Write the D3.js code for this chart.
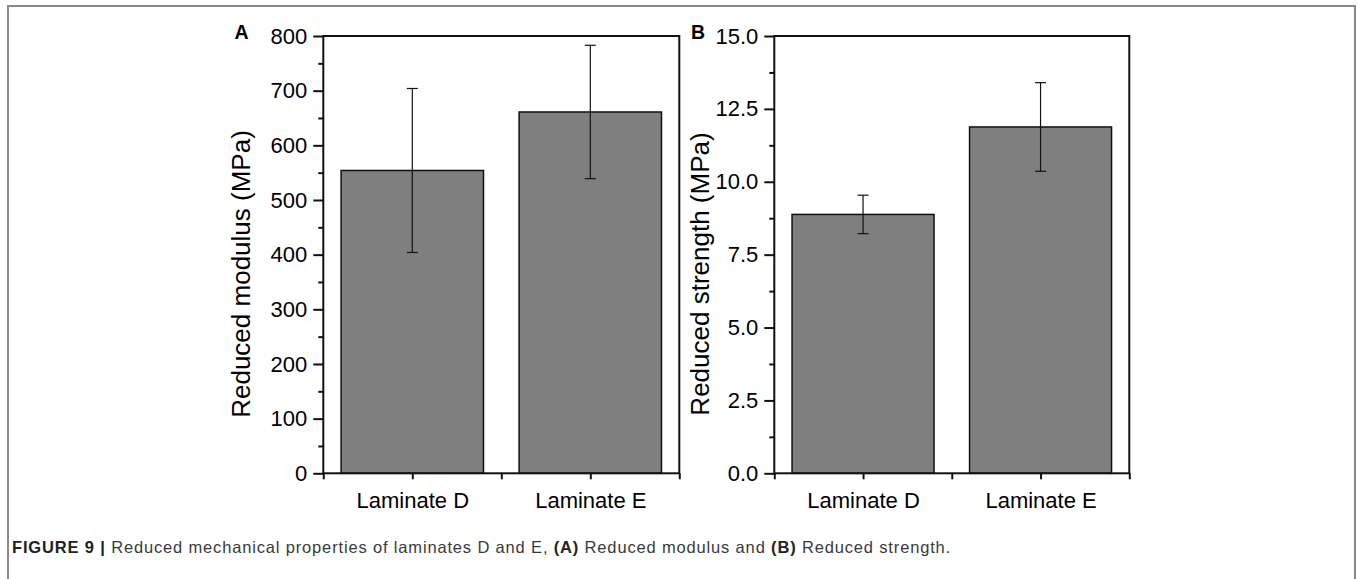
<!DOCTYPE html>
<html>
<head>
<meta charset="utf-8">
<script src="https://cdn.jsdelivr.net/npm/d3@7"></script>
<style>
    body { margin: 0; background: #fff; }
    .font { font-family: "Liberation Sans", Arial, sans-serif; }
    .tick text { font-size: 22px; fill: #000; }
    .axis-title { font-size: 26px; fill: #000; }
    .panel-letter { font-size: 19.5px; font-weight: bold; fill: #000; }
    .caption { font-size: 16.5px; fill: #3a3a3a; }
</style>
</head>
<body>
<svg id="chart" width="1357" height="579"></svg>
<script>
const SVG_WIDTH = 1357;
const SVG_HEIGHT = 579;

// data
const CATEGORIES = ["Laminate D", "Laminate E"];
const MODULUS_MEAN = [554, 661];
const MODULUS_ERR = [150, 122];
const STRENGTH_MEAN = [8.88, 11.88];
const STRENGTH_ERR = [0.66, 1.52];
const MODULUS_TICKS = [0, 100, 200, 300, 400, 500, 600, 700, 800];
const STRENGTH_TICKS = [0, 2.5, 5.0, 7.5, 10.0, 12.5, 15.0];
const CAPTION_BOLD = "FIGURE 9 | ";
const CAPTION_TEXT = "Reduced mechanical properties of laminates D and E, ";

var svg = d3.select("#chart");

// outer figure frame
svg.append("rect")
    .attr("x", 8)
    .attr("y", 6)
    .attr("width", SVG_WIDTH - 10)
    .attr("height", SVG_HEIGHT + 20)
    .attr("fill", "none")
    .attr("stroke", "#8a8a8a")
    .attr("stroke-width", 2);

const PLOT_TOP = 36;
const PLOT_BOTTOM = 473.3;

function drawPanel(opts) {
    var g = svg.append("g");
    var xScale = d3.scaleBand()
        .domain(CATEGORIES)
        .range([opts.left, opts.right])
        .paddingInner(0.2)
        .paddingOuter(0.1);
    var yScale = d3.scaleLinear()
        .domain([opts.ticks[0], opts.ticks[opts.ticks.length - 1]])
        .range([PLOT_BOTTOM, PLOT_TOP]);

    var rows = CATEGORIES.map(function(c, i) {
        return {key: c, mean: opts.mean[i], err: opts.err[i]};
    });

    // bars
    g.selectAll("rect.bar")
        .data(rows)
        .enter()
        .append("rect")
        .classed("bar", true)
        .attr("x", function(d) { return xScale(d.key); })
        .attr("y", function(d) { return yScale(d.mean); })
        .attr("width", xScale.bandwidth())
        .attr("height", function(d) { return PLOT_BOTTOM - yScale(d.mean); })
        .attr("fill", "#7f7f7f")
        .attr("stroke", "#111")
        .attr("stroke-width", 1.5);

    // error bars
    var errG = g.selectAll("g.err")
        .data(rows)
        .enter()
        .append("g")
        .attr("stroke", "#111")
        .attr("stroke-width", 1.2);
    var cx = function(d) { return xScale(d.key) + xScale.bandwidth() / 2; };
    errG.append("line")
        .attr("x1", cx).attr("x2", cx)
        .attr("y1", function(d) { return yScale(d.mean + d.err); })
        .attr("y2", function(d) { return yScale(d.mean - d.err); });
    [1, -1].forEach(function(s) {
        errG.append("line")
            .attr("x1", function(d) { return cx(d) - 5.5; })
            .attr("x2", function(d) { return cx(d) + 5.5; })
            .attr("y1", function(d) { return yScale(d.mean + s * d.err); })
            .attr("y2", function(d) { return yScale(d.mean + s * d.err); });
    });

    // y axis, major + minor ticks
    var yAxis = d3.axisLeft(yScale)
        .tickValues(opts.ticks)
        .tickSize(10)
        .tickSizeOuter(0)
        .tickPadding(6)
        .tickFormat(opts.format);
    g.append("g")
        .classed("font", true)
        .attr("transform", "translate(" + opts.left + ",0)")
        .call(yAxis);
    var minor = d3.pairs(opts.ticks).map(function(p) { return (p[0] + p[1]) / 2; });
    g.append("g")
        .attr("transform", "translate(" + opts.left + ",0)")
        .call(d3.axisLeft(yScale).tickValues(minor).tickSize(5).tickSizeOuter(0).tickFormat(""));

    // x axis: ticks at centres and at band edges
    var xAxis = d3.axisBottom(d3.scaleLinear().domain([0, 4]).range([opts.left, opts.right]))
        .tickValues([0, 1, 2, 3, 4])
        .tickSize(6)
        .tickSizeOuter(0)
        .tickPadding(13)
        .tickFormat(function(v) { return v % 2 === 1 ? CATEGORIES[(v - 1) / 2] : ""; });
    g.append("g")
        .classed("font", true)
        .attr("transform", "translate(0," + PLOT_BOTTOM + ")")
        .call(xAxis);

    g.selectAll("g.tick line").attr("stroke", "#111").attr("stroke-width", 2);
    g.selectAll(".domain").remove();

    // plot box
    g.append("rect")
        .attr("x", opts.left)
        .attr("y", PLOT_TOP)
        .attr("width", opts.right - opts.left)
        .attr("height", PLOT_BOTTOM - PLOT_TOP)
        .attr("fill", "none")
        .attr("stroke", "#111")
        .attr("stroke-width", 2);

    // axis title
    g.append("text")
        .classed("font axis-title", true)
        .attr("transform", "translate(" + opts.titleX + "," + 274 + ") rotate(-90)")
        .attr("text-anchor", "middle")
        .text(opts.title);

    // panel letter
    g.append("text")
        .classed("font panel-letter", true)
        .attr("x", opts.letterX)
        .attr("y", 39)
        .text(opts.letter);
}

drawPanel({
    left: 323.3, right: 679.3,
    mean: MODULUS_MEAN, err: MODULUS_ERR,
    ticks: MODULUS_TICKS, format: d3.format("d"),
    title: "Reduced modulus (MPa)", titleX: 250, letter: "A", letterX: 234.5
});
drawPanel({
    left: 774.3, right: 1129.3,
    mean: STRENGTH_MEAN, err: STRENGTH_ERR,
    ticks: STRENGTH_TICKS, format: d3.format(".1f"),
    title: "Reduced strength (MPa)", titleX: 709, letter: "B", letterX: 691
});

// caption
var caption = svg.append("text")
    .classed("font caption", true)
    .attr("x", 12)
    .attr("y", 552.5);
caption.append("tspan").attr("font-weight", "bold").attr("fill", "#222").text(CAPTION_BOLD);
caption.append("tspan").text(CAPTION_TEXT);
caption.append("tspan").attr("font-weight", "bold").attr("fill", "#222").text("(A)");
caption.append("tspan").text(" Reduced modulus and ");
caption.append("tspan").attr("font-weight", "bold").attr("fill", "#222").text("(B)");
caption.append("tspan").text(" Reduced strength.");

// stretch caption spacing so it ends where the original does
var capWidth = caption.node().getComputedTextLength();
var capChars = caption.text().length;
caption.attr("letter-spacing", ((951 - 12) - capWidth) / capChars);
</script>
</body>
</html>
